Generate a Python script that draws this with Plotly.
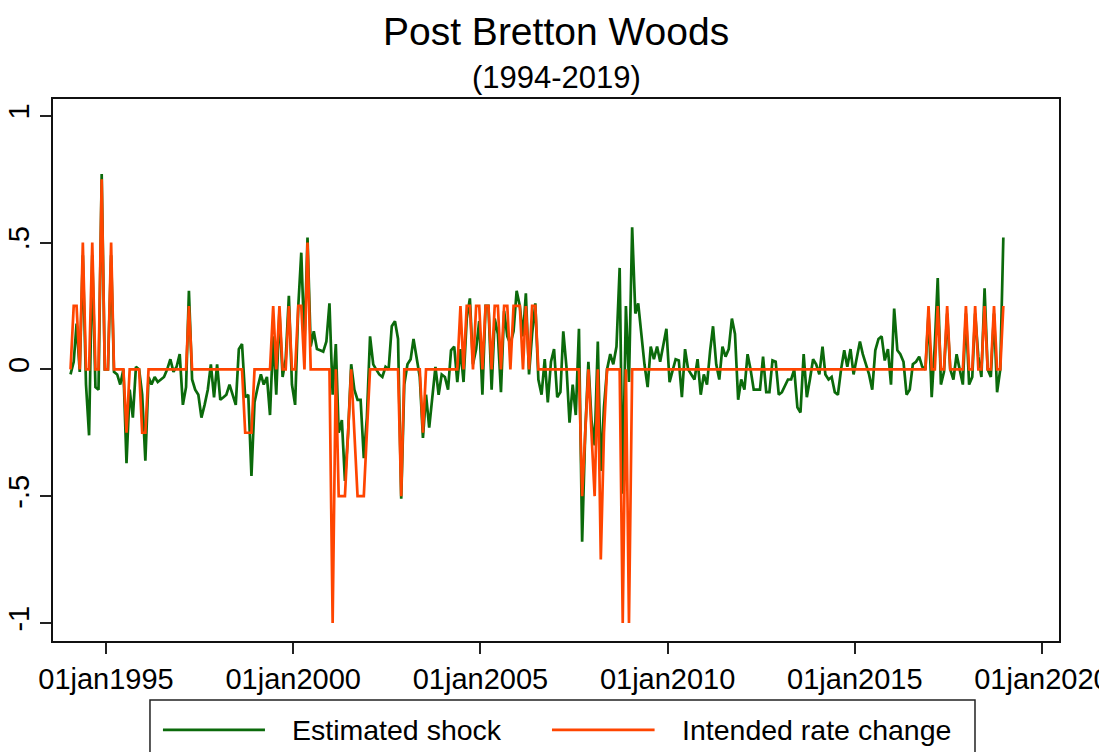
import pandas as pd
import plotly.graph_objects as go

# ---------------- data (monthly, Jan 1994 - Dec 2018) ----------------
start_month = "1994-01"
n_months = 300

estimated_shock = [
    # 1994
    -0.02, 0.03, 0.18, -0.01, 0.45, -0.06, -0.26, 0.45, -0.07, -0.08, 0.77, 0.00,
    # 1995
    0.00, 0.45, -0.01, -0.02, -0.06, 0.00, -0.37, -0.08, -0.19, 0.01, 0.00, -0.10,
    # 1996
    -0.36, -0.03, -0.06, -0.03, -0.05, -0.04, -0.03, 0.00, 0.04, -0.01, 0.01, 0.06,
    # 1997
    -0.14, -0.07, 0.31, -0.04, -0.08, -0.10, -0.19, -0.14, -0.08, 0.02, -0.11, 0.02,
    # 1998
    -0.12, -0.11, -0.10, -0.06, -0.10, -0.14, 0.08, 0.10, -0.11, -0.10, -0.42, -0.13,
    # 1999
    -0.07, -0.02, -0.06, -0.03, -0.18, 0.13, -0.10, 0.23, -0.03, 0.04, 0.29, -0.06,
    # 2000
    -0.14, 0.25, 0.46, 0.10, 0.52, 0.09, 0.15, 0.08, 0.075, 0.07, 0.11, 0.26,
    # 2001
    -0.10, 0.10, -0.25, -0.20, -0.44, -0.25, 0.02, -0.08, -0.12, -0.12, -0.35, -0.19,
    # 2002
    0.13, 0.02, 0.00, -0.02, -0.03, 0.01, 0.00, 0.17, 0.19, 0.12, -0.51, -0.06,
    # 2003
    0.02, 0.04, 0.12, 0.05, -0.03, -0.27, -0.10, -0.23, -0.11, 0.01, -0.10, -0.02,
    # 2004
    -0.03, -0.08, 0.075, 0.09, -0.05, 0.08, -0.05, 0.20, 0.28, 0.02, 0.08, 0.19,
    # 2005
    -0.10, 0.25, 0.25, -0.08, 0.20, 0.14, -0.09, 0.23, 0.13, 0.10, 0.15, 0.31,
    # 2006
    0.25, 0.13, 0.30, -0.02, 0.14, 0.26, -0.04, -0.10, 0.04, -0.13, 0.03, 0.08,
    # 2007
    -0.11, -0.09, 0.15, 0.01, -0.21, -0.06, -0.18, 0.16, -0.68, -0.25, 0.03, -0.20,
    # 2008
    -0.30, 0.11, -0.40, -0.15, 0.00, 0.06, 0.02, 0.09, 0.40, -0.49, 0.25, -0.05,
    # 2009
    0.56, 0.22, 0.26, 0.14, 0.02, -0.07, 0.09, 0.04, 0.09, 0.03, 0.10, 0.16,
    # 2010
    -0.05, 0.00, 0.04, 0.035, -0.11, 0.08, 0.00, -0.02, -0.04, 0.04, -0.10, -0.02,
    # 2011
    -0.06, 0.075, 0.17, 0.02, -0.04, 0.09, 0.05, 0.08, 0.20, 0.14, -0.12, -0.04,
    # 2012
    -0.08, 0.06, 0.00, -0.08, -0.08, -0.08, 0.05, -0.09, -0.09, 0.035, 0.03, -0.10,
    # 2013
    -0.09, -0.06, -0.04, -0.04, 0.00, -0.15, -0.17, 0.06, -0.11, -0.04, 0.04, 0.02,
    # 2014
    -0.02, 0.09, -0.02, -0.04, -0.03, -0.09, -0.10, 0.00, 0.075, 0.01, 0.08, -0.02,
    # 2015
    0.05, 0.11, 0.06, 0.02, -0.02, -0.08, 0.075, 0.12, 0.13, 0.035, 0.08, -0.06,
    # 2016
    0.24, 0.075, 0.06, 0.03, -0.10, -0.08, 0.02, 0.03, 0.05, 0.01, 0.00, 0.22,
    # 2017
    -0.11, 0.10, 0.36, -0.06, -0.01, 0.22, 0.00, -0.04, 0.06, 0.00, -0.06, 0.22,
    # 2018
    -0.06, -0.03, 0.22, 0.05, -0.03, 0.32, 0.00, -0.03, 0.22, -0.09, 0.00, 0.52,
]

intended_rate_change = [
    # 1994
    0, 0.25, 0.25, 0, 0.5, 0, 0, 0.5, 0, 0, 0.75, 0,
    # 1995
    0, 0.5, 0, 0, 0, 0, -0.25, 0, 0, 0, 0, -0.25,
    # 1996
    -0.25, 0, 0, 0, 0, 0, 0, 0, 0, 0, 0, 0,
    # 1997
    0, 0, 0.25, 0, 0, 0, 0, 0, 0, 0, 0, 0,
    # 1998
    0, 0, 0, 0, 0, 0, 0, 0, -0.25, -0.25, -0.25, 0,
    # 1999
    0, 0, 0, 0, 0, 0.25, 0, 0.25, 0, 0, 0.25, 0,
    # 2000
    0, 0.25, 0.25, 0, 0.5, 0, 0, 0, 0, 0, 0, 0,
    # 2001
    -1.0, 0, -0.5, -0.5, -0.5, -0.25, 0, -0.25, -0.5, -0.5, -0.5, -0.25,
    # 2002
    0, 0, 0, 0, 0, 0, 0, 0, 0, 0, -0.5, 0,
    # 2003
    0, 0, 0, 0, 0, -0.25, 0, 0, 0, 0, 0, 0,
    # 2004
    0, 0, 0, 0, 0, 0.25, 0, 0.25, 0.25, 0, 0.25, 0.25,
    # 2005
    0, 0.25, 0.25, 0, 0.25, 0.25, 0, 0.25, 0.25, 0, 0.25, 0.25,
    # 2006
    0.25, 0, 0.25, 0, 0.25, 0.25, 0, 0, 0, 0, 0, 0,
    # 2007
    0, 0, 0, 0, 0, 0, 0, 0, -0.5, -0.25, 0, -0.25,
    # 2008
    -0.5, 0, -0.75, -0.25, 0, 0, 0, 0, 0, -1.0, 0, -1.0,
    # 2009
    0, 0, 0, 0, 0, 0, 0, 0, 0, 0, 0, 0,
    # 2010
    0, 0, 0, 0, 0, 0, 0, 0, 0, 0, 0, 0,
    # 2011
    0, 0, 0, 0, 0, 0, 0, 0, 0, 0, 0, 0,
    # 2012
    0, 0, 0, 0, 0, 0, 0, 0, 0, 0, 0, 0,
    # 2013
    0, 0, 0, 0, 0, 0, 0, 0, 0, 0, 0, 0,
    # 2014
    0, 0, 0, 0, 0, 0, 0, 0, 0, 0, 0, 0,
    # 2015
    0, 0, 0, 0, 0, 0, 0, 0, 0, 0, 0, 0,
    # 2016
    0, 0, 0, 0, 0, 0, 0, 0, 0, 0, 0, 0.25,
    # 2017
    0, 0, 0.25, 0, 0, 0.25, 0, 0, 0, 0, 0, 0.25,
    # 2018
    0, 0, 0.25, 0, 0, 0.25, 0, 0, 0.25, 0, 0, 0.25,
]

x_tick_dates = ["1995-01-01", "2000-01-01", "2005-01-01", "2010-01-01", "2015-01-01", "2020-01-01"]
x_tick_text = ["01jan1995", "01jan2000", "01jan2005", "01jan2010", "01jan2015", "01jan2020"]
y_tick_vals = [-1, -0.5, 0, 0.5, 1]
y_tick_text = ["-1", "-.5", "0", ".5", "1"]

series_names = ["Estimated shock", "Intended rate change"]
title_text = "Post Bretton Woods"
subtitle_text = "(1994-2019)"

# ---------------- figure ----------------
dates = pd.date_range(start=start_month + "-01", periods=n_months, freq="MS") + pd.Timedelta(days=19)

GREEN = "#0b6a0b"
ORANGE = "#ff4500"
FONT = "Liberation Sans, Arial, sans-serif"

fig = go.Figure()
fig.add_trace(go.Scatter(x=dates, y=estimated_shock, mode="lines", name=series_names[0],
                         line=dict(color=GREEN, width=2.7), showlegend=False))
fig.add_trace(go.Scatter(x=dates, y=intended_rate_change, mode="lines", name=series_names[1],
                         line=dict(color=ORANGE, width=2.7), showlegend=False))

fig.update_layout(
    width=1099, height=752,
    margin=dict(l=53, r=40, t=99, b=111),
    paper_bgcolor="white", plot_bgcolor="white",
    font=dict(family=FONT, color="black"),
    showlegend=False,
)

fig.update_xaxes(
    type="date", range=["1993-08-02", "2020-06-15"],
    tickmode="array", tickvals=x_tick_dates, ticktext=x_tick_text,
    ticks="outside", ticklen=11, tickwidth=1.5, tickcolor="#222",
    showline=True, linecolor="#111", linewidth=1.5, mirror=True,
    showgrid=False, zeroline=False, automargin=False,
    ticklabeloverflow="allow",
    tickfont=dict(family=FONT, size=29, color="black"),
)
fig.update_yaxes(
    range=[-1.071, 1.066],
    tickmode="array", tickvals=y_tick_vals, ticktext=y_tick_text, tickangle=-90,
    ticks="outside", ticklen=11, tickwidth=1.5, tickcolor="#222",
    showline=True, linecolor="#111", linewidth=1.5, mirror=True,
    showgrid=False, zeroline=False, automargin=False,
    tickfont=dict(family=FONT, size=29, color="black"),
)

# titles
fig.add_annotation(text=title_text, xref="paper", yref="paper", x=0.5, y=1.124,
                   xanchor="center", yanchor="middle", showarrow=False,
                   font=dict(family=FONT, size=39, color="black"))
fig.add_annotation(text=subtitle_text, xref="paper", yref="paper", x=0.5, y=1.039,
                   xanchor="center", yanchor="middle", showarrow=False,
                   font=dict(family=FONT, size=31, color="black"))

# legend (drawn manually to match long key lines)
leg_y = -0.164
fig.add_shape(type="rect", xref="paper", yref="paper", x0=0.0964, x1=0.9165, y0=-0.27, y1=-0.1089,
              line=dict(color="#222", width=1.5), fillcolor="white", layer="above")
fig.add_shape(type="line", xref="paper", yref="paper", x0=0.1093, x1=0.2107, y0=leg_y, y1=leg_y,
              line=dict(color=GREEN, width=2.7))
fig.add_shape(type="line", xref="paper", yref="paper", x0=0.496, x1=0.598, y0=leg_y, y1=leg_y,
              line=dict(color=ORANGE, width=2.7))
fig.add_annotation(text=series_names[0], xref="paper", yref="paper", x=0.2356, y=leg_y,
                   xanchor="left", yanchor="middle", showarrow=False,
                   font=dict(family=FONT, size=28.5, color="black"))
fig.add_annotation(text=series_names[1], xref="paper", yref="paper", x=0.6233, y=leg_y,
                   xanchor="left", yanchor="middle", showarrow=False,
                   font=dict(family=FONT, size=28.5, color="black"))

fig.write_html("out.html", config={"displayModeBar": False},
               post_script="document.body.style.margin='0';document.body.style.overflow='hidden';")
